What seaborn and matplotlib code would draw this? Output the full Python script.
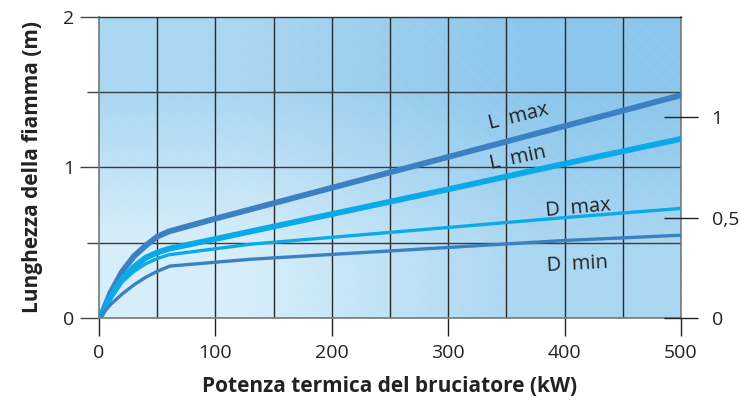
import numpy as np
import pandas as pd
import matplotlib
matplotlib.use("Agg")
import matplotlib.pyplot as plt
import seaborn as sns

# curve values (kW -> m)
x_lmax = [2, 10, 20, 30, 40, 50, 60, 100, 200, 300, 400, 500]
y_lmax = [0.02, 0.17, 0.31, 0.41, 0.48, 0.54, 0.575, 0.66, 0.865, 1.07, 1.275, 1.48]

x_lmin = [2, 10, 20, 30, 40, 50, 60, 100, 200, 300, 400, 500]
y_lmin = [0.02, 0.14, 0.26, 0.34, 0.40, 0.435, 0.46, 0.525, 0.69, 0.855, 1.025, 1.19]

x_dmax = [2, 10, 20, 30, 40, 50, 60, 130, 400, 500]
y_dmax = [0.02, 0.13, 0.24, 0.31, 0.36, 0.395, 0.42, 0.49, 0.667, 0.728]

x_dmin = [2, 10, 20, 30, 40, 50, 61, 130, 400, 500]
y_dmin = [0.02, 0.09, 0.16, 0.22, 0.27, 0.31, 0.345, 0.39, 0.515, 0.55]

x_ticks = [0, 100, 200, 300, 400, 500]
y_ticks = [0, 1, 2]
right_ticks = [0, 0.5, 1]
right_labels = ["0", "0,5", "1"]

dark_blue = "#3b80c3"
cyan = "#0aaae8"

sns.set_style("white")
plt.rcParams["font.family"] = ["Open Sans", "DejaVu Sans"]
plt.rcParams["hatch.linewidth"] = 0.8

fig = plt.figure(figsize=(7.41, 4.07), dpi=100)
ax = fig.add_axes([0.1336, 0.2187, 0.7854, 0.7396])

# gradient background, light bottom-left to darker top-right
grad = np.array([[0.0, 0.6], [0.6, 1.0]])
cmap = matplotlib.colors.LinearSegmentedColormap.from_list("bg", ["#d6eefa", "#8cc6ec"])
ax.imshow(grad, extent=[0, 500, 0, 2], origin="lower", cmap=cmap,
          interpolation="bilinear", aspect="auto", zorder=0)
# faint diagonal hatch
ax.fill_between([0, 500], 0, 2, facecolor="none", edgecolor="white",
                hatch="\\\\", linewidth=0, alpha=0.07, zorder=0.5)

curves = [
    (x_lmax, y_lmax, dark_blue, 4.2),
    (x_lmin, y_lmin, cyan, 4.2),
    (x_dmax, y_dmax, cyan, 2.4),
    (x_dmin, y_dmin, dark_blue, 2.4),
]
for xs, ys, c, lw in curves:
    sns.lineplot(x=xs, y=ys, ax=ax, color=c, linewidth=lw, zorder=3)

ax.set_xlim(0, 500)
ax.set_ylim(0, 2)

# grid
for gx in range(50, 500, 50):
    ax.axvline(gx, color="#2a2a2a", lw=1, zorder=2)
for gy in [0.5, 1, 1.5]:
    ax.axhline(gy, color="#3a3a3a", lw=1, zorder=2)

ax.set_xticks(x_ticks)
ax.set_yticks(y_ticks)
ax.set_yticks([0.5, 1.5], minor=True)
ax.tick_params(axis="x", direction="out", length=13, width=1, color="#222222",
               labelsize=14, pad=6, bottom=True)
ax.tick_params(axis="y", which="major", direction="out", length=14, width=1,
               color="#444444", labelsize=14, pad=4, left=True)
ax.tick_params(axis="y", which="minor", direction="out", length=9, width=1,
               color="#444444", left=True)
for lab in ax.get_xticklabels() + ax.get_yticklabels():
    lab.set_color("#222222")

for side in ["left", "bottom", "right"]:
    ax.spines[side].set_color("#777777")
    ax.spines[side].set_linewidth(1.2)
ax.spines["top"].set_color("#333333")
ax.spines["top"].set_linewidth(1)

ax.set_xlabel("Potenza termica del bruciatore (kW)", fontsize=15,
              fontweight="bold", color="#222222", labelpad=10)
ax.set_ylabel("Lunghezza della fiamma (m)", fontsize=15,
              fontweight="bold", color="#222222", labelpad=14)

# right axis
ax2 = ax.twinx()
ax2.set_ylim(0, 1.5)
ax2.set_yticks(right_ticks)
ax2.set_yticklabels(right_labels)
ax2.tick_params(axis="y", direction="inout", length=24, width=1,
                color="#222222", labelsize=14, pad=10, right=True)
for lab in ax2.get_yticklabels():
    lab.set_color("#222222")
for s in ax2.spines.values():
    s.set_visible(False)

# curve labels
labels = [
    ("L  max", 360, 1.34, 14),
    ("L  min", 360, 1.06, 12),
    ("D  max", 412, 0.73, 5),
    ("D  min", 411, 0.355, 3),
]
for txt, lx, ly, rot in labels:
    ax.text(lx, ly, txt, fontsize=14.5, color="#222222", rotation=rot,
            ha="center", va="center", zorder=4)

fig.savefig("out.png", dpi=100)
